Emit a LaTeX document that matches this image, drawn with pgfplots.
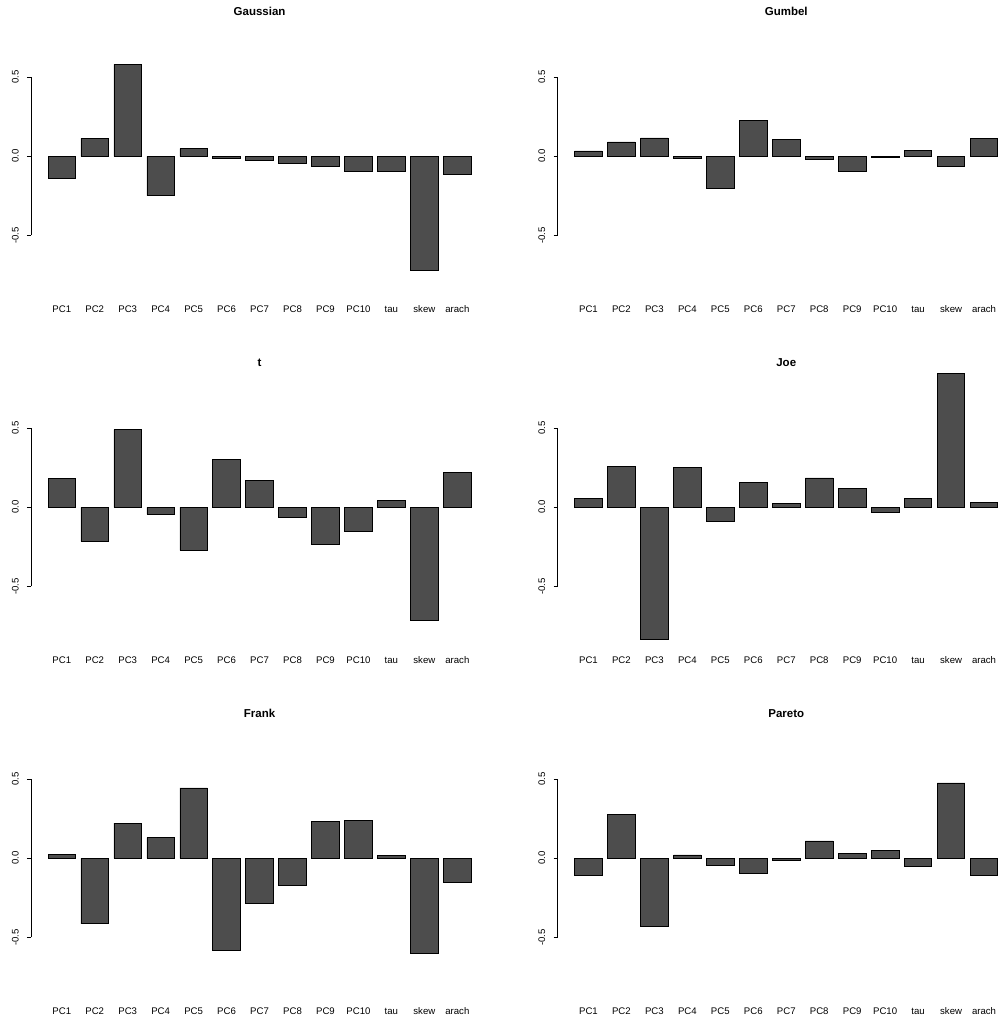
\documentclass[border=0pt]{standalone}
\usepackage{pgfplots}
\pgfplotsset{compat=1.18}
\usepackage{fontspec}
\setmainfont{Liberation Sans}
\definecolor{barfill}{HTML}{4D4D4D}
\pgfplotsset{
  rpanel/.style={
    scale only axis,
    width=456.9pt, height=284.4pt,
    xmin=-0.416, xmax=16.216,
    ymin=-0.9, ymax=0.9,
    axis line style={draw=none},
    xtick={0.7,1.9,3.1,4.3,5.5,6.7,7.9,9.1,10.3,11.5,12.7,13.9,15.1},
    xticklabels={PC1,PC2,PC3,PC4,PC5,PC6,PC7,PC8,PC9,PC10,tau,skew,arach},
    xtick pos=bottom,
    x tick style={draw=none},
    ytick={-0.5,0,0.5},
    yticklabels={-0.5,0.0,0.5},
    ytick pos=left,
    ytick align=outside,
    major tick length=4.3pt,
    y tick style={black, line width=0.75pt},
    tick label style={font=\fontsize{9.6}{11}\selectfont},
    xticklabel style={anchor=base, yshift=-9.8pt},
    yticklabel style={anchor=base, xshift=-8.3pt, rotate=90},
    title style={font=\bfseries\fontsize{11.5}{13}\selectfont, at={(0.5,1)}, anchor=base, yshift=-7pt},
    ybar, bar width=1, bar shift=0pt,
    clip=false,
  },
  rbar/.style={fill=barfill, draw=black, line width=0.75pt},
}
\newcommand{\yaxisline}{\draw[black, line width=0.75pt] (axis cs:-0.416,-0.5) -- (axis cs:-0.416,0.5);}
\begin{document}
\begin{tikzpicture}
\useasboundingbox (0,0) rectangle (1000pt,1020pt);
% Gaussian
\begin{axis}[rpanel, at={(31.1pt,721.5pt)}, anchor=south west, title={Gaussian}]
\addplot[rbar] coordinates {(0.7,-0.141) (1.9,0.114) (3.1,0.582) (4.3,-0.249) (5.5,0.0485) (6.7,-0.013) (7.9,-0.027) (9.1,-0.046) (10.3,-0.065) (11.5,-0.097) (12.7,-0.097) (13.9,-0.7215) (15.1,-0.114)};
\yaxisline
\end{axis}
% Gumbel
\begin{axis}[rpanel, at={(557.8pt,721.5pt)}, anchor=south west, title={Gumbel}]
\addplot[rbar] coordinates {(0.7,0.034) (1.9,0.091) (3.1,0.116) (4.3,-0.013) (5.5,-0.200) (6.7,0.226) (7.9,0.108) (9.1,-0.017) (10.3,-0.095) (11.5,-0.006) (12.7,0.038) (13.9,-0.061) (15.1,0.112)};
\yaxisline
\end{axis}
% t
\begin{axis}[rpanel, at={(31.1pt,370.5pt)}, anchor=south west, title={t}]
\addplot[rbar] coordinates {(0.7,0.182) (1.9,-0.216) (3.1,0.492) (4.3,-0.0445) (5.5,-0.273) (6.7,0.305) (7.9,0.172) (9.1,-0.061) (10.3,-0.235) (11.5,-0.155) (12.7,0.0445) (13.9,-0.716) (15.1,0.220)};
\yaxisline
\end{axis}
% Joe
\begin{axis}[rpanel, at={(557.8pt,370.5pt)}, anchor=south west, title={Joe}]
\addplot[rbar] coordinates {(0.7,0.055) (1.9,0.258) (3.1,-0.833) (4.3,0.254) (5.5,-0.089) (6.7,0.159) (7.9,0.025) (9.1,0.186) (10.3,0.119) (11.5,-0.034) (12.7,0.055) (13.9,0.847) (15.1,0.028)};
\yaxisline
\end{axis}
% Frank
\begin{axis}[rpanel, at={(31.1pt,19.5pt)}, anchor=south west, title={Frank}]
\addplot[rbar] coordinates {(0.7,0.025) (1.9,-0.415) (3.1,0.222) (4.3,0.131) (5.5,0.445) (6.7,-0.585) (7.9,-0.284) (9.1,-0.174) (10.3,0.233) (11.5,0.242) (12.7,0.019) (13.9,-0.604) (15.1,-0.153)};
\yaxisline
\end{axis}
% Pareto
\begin{axis}[rpanel, at={(557.8pt,19.5pt)}, anchor=south west, title={Pareto}]
\addplot[rbar] coordinates {(0.7,-0.110) (1.9,0.280) (3.1,-0.430) (4.3,0.021) (5.5,-0.044) (6.7,-0.095) (7.9,-0.011) (9.1,0.110) (10.3,0.032) (11.5,0.051) (12.7,-0.049) (13.9,0.477) (15.1,-0.110)};
\yaxisline
\end{axis}
\end{tikzpicture}
\end{document}
